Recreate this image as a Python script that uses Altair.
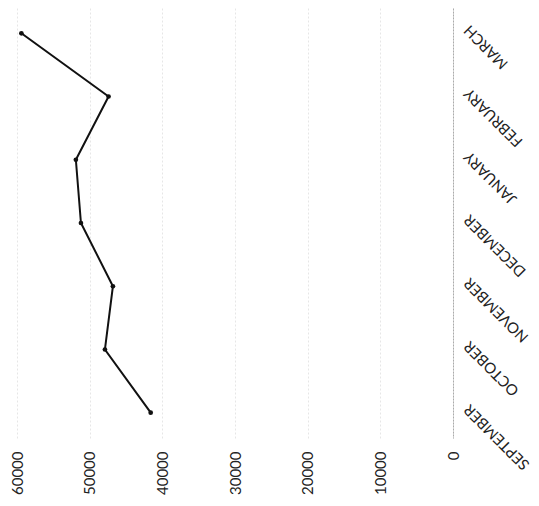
import altair as alt
import pandas as pd

months = ["SEPTEMBER", "OCTOBER", "NOVEMBER", "DECEMBER", "JANUARY", "FEBRUARY", "MARCH"]
values = [41600, 47900, 46800, 51200, 51900, 47400, 59400]
value_ticks = [0, 10000, 20000, 30000, 40000, 50000, 60000]

df = pd.DataFrame({"month": months, "value": values})

x_enc = alt.X(
    "value:Q",
    scale=alt.Scale(domain=[0, 60000], reverse=True, nice=False, zero=True),
    axis=alt.Axis(
        title=None, values=value_ticks, orient="bottom", domain=False, ticks=False,
        labelAngle=270, labelAlign="right", labelBaseline="middle", labelPadding=13,
        labelFont="Lato", labelFontSize=15, labelColor="#222222", format="d",
        grid=True, gridColor="#e6e6e6", gridDash=[2, 2], gridWidth=1,
    ),
)
y_enc = alt.Y(
    "month:N",
    sort=list(reversed(months)),
    scale=alt.Scale(padding=0.4),
    axis=alt.Axis(
        title=None, orient="right", ticks=False, grid=False,
        domain=True, domainColor="#aaaaaa", domainWidth=1, domainDash=[2, 1],
        labelAngle=225, labelAlign="right", labelBaseline="middle", labelPadding=13,
        labelOffset=-6,
        labelFont="Lato", labelFontSize=15, labelColor="#222222",
    ),
)

line = alt.Chart(df).mark_line(color="#111111", strokeWidth=2).encode(x=x_enc, y=y_enc)
points = alt.Chart(df).mark_circle(color="#111111", size=22, opacity=1).encode(x=x_enc, y=y_enc)

chart = (
    alt.layer(line, points)
    .properties(
        width=436, height=430,
        autosize=alt.AutoSizeParams(type="none"),
        padding={"left": 9, "top": 0, "right": 78, "bottom": 57},
    )
    .configure_view(stroke=None)
)
chart.save("out.html", embed_options={"renderer": "svg", "actions": False})
